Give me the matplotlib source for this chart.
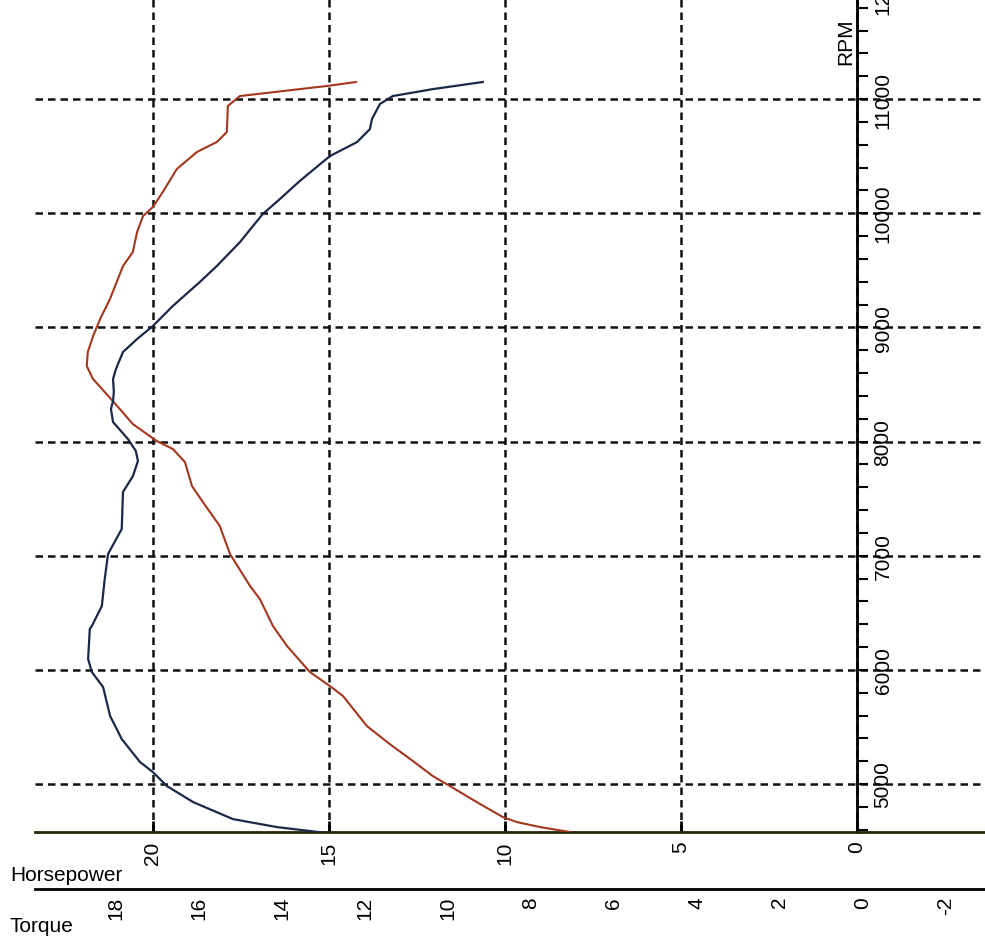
import numpy as np
import matplotlib.pyplot as plt

plt.rcParams['font.family'] = ['Liberation Sans', 'DejaVu Sans']

# Horsepower curve
hp_rpm = [4580, 4623, 4667, 4711, 4842, 4982, 5070, 5201, 5350, 5508, 5771, 5858,
          5981, 6209, 6384, 6620, 6734, 7015, 7260, 7470, 7610, 7820, 7934, 8004,
          8153, 8355, 8547, 8661, 8784, 8924, 9073, 9248, 9537, 9660, 9835, 9975,
          10054, 10185, 10387, 10536, 10624, 10711, 10939, 11026, 11087, 11114, 11149]
hp_val = [8.15, 9.0, 9.66, 10.06, 10.8, 11.56, 12.05, 12.61, 13.27, 13.92, 14.6, 14.97,
          15.54, 16.19, 16.59, 16.96, 17.24, 17.81, 18.1, 18.58, 18.89, 19.09, 19.43, 19.89,
          20.57, 21.14, 21.7, 21.88, 21.85, 21.7, 21.5, 21.22, 20.85, 20.57, 20.45, 20.28,
          20.0, 19.72, 19.32, 18.75, 18.18, 17.9, 17.87, 17.53, 15.82, 15.06, 14.23]

# Torque curve
tq_rpm = [4571, 4623, 4693, 4842, 4982, 5105, 5193, 5394, 5596, 5850, 5981, 6095,
          6358, 6384, 6559, 6796, 7015, 7234, 7558, 7698, 7829, 7917, 8022, 8171,
          8285, 8355, 8434, 8547, 8635, 8784, 8898, 9012, 9187, 9397, 9537, 9747,
          9887, 9993, 10124, 10282, 10430, 10501, 10623, 10737, 10825, 10956, 11026,
          11087, 11149]
tq_val = [12.92, 14.12, 15.18, 16.14, 16.77, 17.11, 17.42, 17.86, 18.14, 18.31, 18.58, 18.67,
          18.63, 18.58, 18.34, 18.27, 18.19, 17.86, 17.83, 17.59, 17.47, 17.52, 17.71, 18.07,
          18.12, 18.07, 18.05, 18.07, 18.0, 17.83, 17.49, 17.11, 16.63, 15.98, 15.57, 15.01,
          14.70, 14.46, 14.05, 13.57, 13.08, 12.84, 12.19, 11.88, 11.83, 11.64, 11.33,
          10.36, 9.16]

hp_ticks = [0, 5, 10, 15, 20]
tq_ticks = [-2, 0, 2, 4, 6, 8, 10, 12, 14, 16, 18]
rpm_ticks = [5000, 6000, 7000, 8000, 9000, 10000, 11000]

RED = '#a5361e'
BLUE = '#1b2848'
DASH = (0, (3, 2))

fig = plt.figure(figsize=(9.85, 9.45), dpi=100)
ax = fig.add_axes([35 / 985, 112 / 945, 950 / 985, 833 / 945])

ax.set_xlim(23.35, -3.64)
ax.set_ylim(4580, 11876)

ax.plot(hp_val, hp_rpm, color=RED, lw=1.5, zorder=3)

# torque on its own scale, drawn in the same box
ax2 = ax.twiny()
ax2.set_xlim(19.95, -2.94)
ax2.plot(tq_val, tq_rpm, color=BLUE, lw=1.6, zorder=3)

# grid
ax.set_xticks(hp_ticks)
ax.set_yticks(rpm_ticks)
ax.set_yticks(np.arange(4600, 11900, 200), minor=True)
ax.grid(True, which='major', color='#111', lw=1.8, ls=DASH)

# spines
for s in ['top', 'left']:
    ax.spines[s].set_visible(False)
ax.spines['bottom'].set_color('#2a2608')
ax.spines['bottom'].set_linewidth(2)
ax.spines['right'].set_position(('data', 0))
ax.spines['right'].set_linewidth(2)
ax.yaxis.tick_right()

ax.tick_params(axis='x', direction='in', length=8, width=2, pad=6,
               labelrotation=90, labelsize=15)
ax.tick_params(axis='y', which='both', direction='out', length=8, width=1.5,
               pad=4, labelrotation=90, labelsize=15)
for lbl in ax.get_yticklabels():
    lbl.set_va('center')

# torque scale below
for s in ['top', 'left', 'right']:
    ax2.spines[s].set_visible(False)
ax2.spines['bottom'].set_visible(True)
ax2.spines['bottom'].set_position(('outward', 41))
ax2.spines['bottom'].set_linewidth(2)
ax2.xaxis.set_ticks_position('bottom')
ax2.xaxis.set_label_position('bottom')
ax2.set_xticks(tq_ticks)
ax2.set_xticklabels([str(t) for t in tq_ticks])
ax2.tick_params(axis='x', length=0, pad=5, labelrotation=90, labelsize=15)

# cut-off 12000 label at the top edge, as on the scanned sheet
ax.annotate('12000', xy=(0, 12000), xytext=(12, 0), textcoords='offset points',
            rotation=90, fontsize=15, ha='left', va='center',
            annotation_clip=False)

fig.text(10 / 985, 1 - 876 / 945, 'Horsepower', fontsize=15, ha='left', va='center')
fig.text(10 / 985, 1 - 927 / 945, 'Torque', fontsize=15, ha='left', va='center')
fig.text(846 / 985, 1 - 42 / 945, 'RPM', fontsize=15, rotation=90,
         ha='center', va='center')

fig.savefig('out.png', dpi=100)
